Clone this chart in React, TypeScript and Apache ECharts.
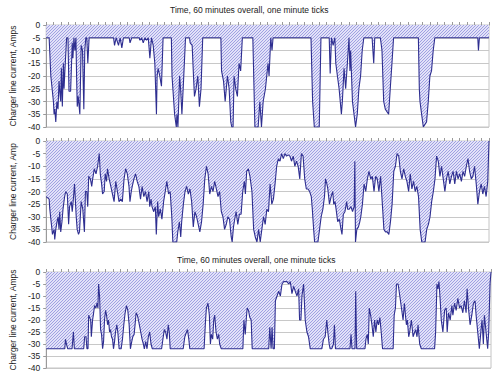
import React, { useEffect, useRef } from "react";
import * as echarts from "echarts";

const titleText = "Time, 60 minutes overall, one minute ticks";
const yName = "Charger line current, Amps";
const yNameCut = "Charger line current, Amp";
const yTicks = [0, -5, -10, -15, -20, -25, -30, -35, -40];

// [minute, amps]
const panel1: number[][] = [
  [0,-5],[0.4,-5],[0.63,-20],[0.98,-30],[1.07,-35],[1.16,-33],[1.3,-38],[1.45,-30],[1.6,-33],[1.74,-22],
  [1.9,-28],[1.97,-30],[2.06,-17],[2.19,-32],[2.33,-15],[2.42,-25],[2.55,-17],[2.77,-5],[2.95,-5],[3.09,-26],
  [3.31,-26],[3.53,-7],[3.62,-13],[3.76,-5],[3.89,-10],[4.03,-5],[4.12,-20],[4.21,-32],[4.34,-28],[4.56,-35],
  [4.74,-8],[4.92,-10],[5.1,-33],[5.23,-10],[5.37,-5],[5.5,-5],[5.64,-15],[5.82,-5],[9.13,-5],[9.26,-8],
  [9.48,-5],[9.8,-8],[10.02,-5],[10.25,-9],[10.47,-5],[11.25,-5],[11.36,-7],[11.59,-5],[12.6,-5],[12.71,-6],
  [12.93,-5],[13.15,-7],[13.38,-5],[13.6,-6],[13.83,-5],[13.92,-5],[14.05,-13],[14.27,-5],[14.5,-8],[14.72,-15],
  [14.94,-35],[15.03,-20],[15.17,-17],[15.39,-20],[15.62,-24],[15.84,-5],[16.96,-5],[17.05,-20],[17.4,-35],[17.63,-40],
  [17.72,-35],[17.85,-40],[18.08,-20],[18.21,-25],[18.39,-35],[18.61,-22],[18.88,-5],[19.42,-5],[19.51,-7],[19.78,-8],
  [19.96,-20],[20.09,-28],[20.31,-25],[20.54,-20],[20.76,-32],[20.98,-25],[21.21,-5],[23.67,-5],[23.76,-18],[24.03,-22],
  [24.25,-30],[24.56,-20],[24.79,-25],[25.01,-38],[25.15,-40],[25.32,-40],[25.46,-20],[25.68,-25],[25.91,-28],[26.13,-15],
  [26.35,-18],[26.58,-5],[28.0,-5],[28.2,-30],[28.28,-40],[28.72,-40],[28.95,-30],[29.17,-40],[29.4,-30],[29.71,-25],
  [30.06,-15],[30.2,-20],[30.43,-5],[30.6,-10],[30.74,-5],[35.88,-5],[36.1,-30],[36.33,-40],[37.0,-40],[37.23,-5],
  [38.35,-5],[38.48,-19],[38.66,-5],[38.88,-8],[39.11,-5],[39.24,-15],[39.46,-20],[39.69,-25],[40.0,-35],[40.13,-30],
  [40.36,-17],[40.58,-25],[40.81,-15],[41.03,-5],[41.16,-18],[41.25,-10],[41.5,-30],[41.92,-40],[42.15,-35],[42.37,-25],
  [42.6,-20],[42.82,-10],[43.04,-5],[44.16,-5],[44.38,-15],[44.52,-5],[45.28,-5],[45.5,-10],[45.73,-30],[45.95,-33],
  [46.4,-35],[46.62,-25],[46.85,-15],[47.07,-5],[50.43,-5],[50.56,-25],[50.65,-30],[50.87,-35],[51.1,-40],[51.54,-38],
  [51.77,-30],[51.99,-20],[52.21,-18],[52.44,-10],[52.66,-5],[58.48,-5],[58.57,-10],[58.7,-5],[60,-5]
];

const panel2: number[][] = [
  [0,-22],[0.4,-23],[0.49,-27],[0.71,-33],[0.85,-37],[1.07,-35],[1.16,-39],[1.3,-35],[1.47,-32],[1.61,-30],
  [1.74,-35],[1.83,-28],[1.97,-36],[2.14,-32],[2.28,-27],[2.5,-22],[2.64,-20],[2.86,-21],[3.04,-33],[3.17,-26],
  [3.4,-24],[3.53,-28],[3.71,-22],[3.84,-17],[3.98,-25],[4.07,-30],[4.2,-35],[4.38,-37],[4.51,-36],[4.74,-24],
  [4.96,-27],[5.18,-36],[5.32,-20],[5.5,-20],[5.63,-26],[5.76,-14],[5.99,-15],[6.17,-18],[6.3,-15],[6.52,-11],
  [6.75,-13],[6.97,-10],[7.19,-5],[7.33,-13],[7.51,-17],[7.64,-21],[7.86,-20],[8.0,-13],[8.18,-16],[8.31,-11],
  [8.53,-15],[8.76,-18],[8.98,-21],[9.2,-24],[9.43,-16],[9.65,-20],[9.87,-24],[10.1,-23],[10.32,-24],[10.55,-15],
  [10.77,-11],[10.99,-13],[11.22,-18],[11.35,-24],[11.53,-20],[11.66,-18],[11.89,-15],[12.11,-13],[12.33,-16],[12.56,-18],
  [12.78,-23],[13.0,-18],[13.23,-22],[13.45,-20],[13.67,-24],[13.9,-20],[14.03,-26],[14.21,-23],[14.34,-26],[14.57,-28],
  [14.79,-26],[14.92,-37],[15.1,-24],[15.24,-30],[15.46,-27],[15.68,-31],[15.91,-24],[16.13,-20],[16.35,-16],[16.58,-21],
  [16.8,-20],[17.02,-30],[17.16,-40],[17.69,-40],[17.83,-36],[18.05,-32],[18.23,-38],[18.36,-32],[18.59,-25],[18.81,-20],
  [19.03,-18],[19.26,-21],[19.48,-19],[19.71,-24],[19.93,-34],[20.15,-28],[20.38,-30],[20.6,-33],[20.82,-36],[21.05,-32],
  [21.27,-25],[21.49,-15],[21.72,-10],[21.94,-13],[22.16,-21],[22.39,-18],[22.61,-20],[22.83,-16],[23.06,-19],[23.28,-22],
  [23.5,-20],[23.73,-28],[23.95,-30],[24.17,-35],[24.4,-33],[24.62,-30],[24.84,-31],[25.07,-38],[25.2,-40],[25.38,-34],
  [25.6,-30],[25.74,-28],[25.96,-33],[26.18,-29],[26.41,-29],[26.63,-20],[26.85,-16],[26.99,-21],[27.17,-12],[27.39,-11],
  [27.61,-14],[27.88,-20],[28.11,-35],[28.33,-38],[28.56,-40],[28.78,-35],[29.0,-40],[29.22,-35],[29.45,-30],[29.67,-33],
  [29.9,-27],[30.12,-28],[30.34,-17],[30.57,-25],[30.79,-23],[31.01,-17],[31.23,-10],[31.46,-7],[31.68,-8],[31.9,-5],
  [32.13,-7],[32.35,-5],[32.57,-6],[32.8,-5.5],[33.02,-6],[33.24,-8],[33.47,-6],[33.69,-10],[33.91,-8],[34.14,-10],
  [34.36,-15],[34.58,-5],[34.81,-6],[35.03,-15],[35.25,-19],[35.48,-19],[35.7,-20],[35.92,-22],[36.06,-27],[36.24,-35],
  [36.37,-40],[36.82,-40],[37.04,-35],[37.26,-30],[37.49,-27],[37.71,-22],[37.85,-15],[38.03,-17],[38.16,-19],[38.38,-25],
  [38.61,-22],[38.83,-20],[38.96,-25],[39.14,-24],[39.28,-27],[39.5,-32],[39.72,-31],[39.95,-35],[40.08,-37],[40.26,-29],
  [40.48,-28],[40.71,-24],[40.84,-27],[41.06,-27],[41.29,-26],[41.51,-28],[41.73,-26],[41.82,-8],[41.91,-40],[42.09,-35],
  [42.31,-34],[42.49,-32],[42.63,-30],[42.85,-25],[43.07,-17],[43.3,-20],[43.52,-15],[43.74,-12],[43.97,-15],[44.19,-14],
  [44.42,-20],[44.64,-14],[44.86,-15],[45.08,-20],[45.31,-14],[45.53,-24],[45.76,-35],[45.98,-36],[46.2,-36],[46.43,-37],
  [46.65,-32],[46.87,-25],[47.1,-12],[47.32,-10],[47.54,-5],[47.77,-6],[47.99,-12],[48.21,-15],[48.44,-11],[48.66,-14],
  [48.88,-16],[49.11,-20],[49.33,-13],[49.55,-19],[49.78,-16],[50.0,-20],[50.22,-18],[50.45,-22],[50.67,-35],[50.89,-40],
  [51.34,-40],[51.56,-35],[51.79,-33],[52.01,-30],[52.23,-24],[52.46,-20],[52.68,-15],[52.9,-6],[53.13,-8],[53.35,-14],
  [53.57,-10],[53.8,-15],[54.02,-20],[54.24,-15],[54.47,-12],[54.69,-17],[54.92,-14],[55.14,-12],[55.36,-17],[55.59,-12],
  [55.81,-15],[56.03,-13],[56.26,-16],[56.48,-12],[56.7,-14],[56.93,-10],[57.15,-7],[57.37,-12],[57.6,-15],[57.82,-14],
  [58.04,-10],[58.27,-17],[58.49,-25],[58.71,-20],[58.94,-17],[59.16,-21],[59.38,-18],[59.61,-22],[59.83,-16],[60,0]
];

const panel3: number[][] = [
  [0,-32],[2.51,-32],[2.6,-28],[2.73,-30],[2.91,-32],[3.49,-32],[3.67,-25],[3.8,-32],[5.06,-32],[5.19,-27],
  [5.37,-27],[5.5,-32],[5.64,-32],[5.73,-18],[5.86,-19],[6.0,-20],[6.09,-27],[6.17,-27],[6.26,-20],[6.4,-17],
  [6.53,-14],[6.71,-15],[6.85,-13],[6.98,-15],[7.07,-5],[7.2,-10],[7.34,-24],[7.47,-26],[7.61,-32],[7.74,-29],
  [7.87,-20],[8.01,-16],[8.14,-18],[8.28,-22],[8.41,-20],[8.55,-25],[8.68,-24],[8.81,-27],[8.95,-28],[9.08,-32],
  [9.22,-29],[9.35,-25],[9.53,-22],[9.66,-25],[9.84,-32],[10.11,-32],[10.29,-28],[10.47,-22],[10.65,-17],[10.83,-14],
  [11.01,-16],[11.19,-22],[11.36,-32],[11.54,-29],[11.68,-27],[11.86,-26],[11.99,-22],[12.13,-17],[12.3,-18],[12.44,-20],
  [12.57,-22],[12.75,-25],[12.93,-28],[13.11,-30],[13.24,-32],[13.42,-29],[13.6,-32],[13.78,-27],[13.96,-25],[14.14,-30],
  [14.32,-32],[15.57,-32],[15.79,-27],[15.93,-24],[16.11,-25],[16.29,-28],[16.47,-22],[16.6,-25],[16.73,-32],[18.48,-32],
  [18.7,-27],[18.93,-25],[19.06,-24],[19.24,-28],[19.37,-32],[21.3,-32],[21.48,-21],[21.61,-15],[21.83,-13],[22.01,-18],
  [22.15,-30],[22.28,-26],[22.46,-28],[22.6,-20],[22.73,-18],[22.91,-25],[23.09,-28],[23.27,-26],[23.4,-30],[23.62,-32],
  [26.53,-32],[26.67,-20],[26.85,-26],[26.98,-20],[27.11,-15],[27.29,-16],[27.47,-19],[27.65,-20],[27.79,-32],[30.02,-32],
  [30.16,-23],[30.34,-32],[30.47,-23],[30.6,-32],[30.78,-32],[30.92,-12],[31.14,-10],[31.36,-8],[31.59,-10],[31.81,-5],
  [32.04,-4],[32.48,-4],[32.71,-5],[32.93,-4],[33.15,-9],[33.38,-6],[33.6,-8],[33.83,-10],[34.05,-7],[34.18,-20],
  [34.36,-20],[34.5,-10],[34.72,-5],[34.94,-20],[35.17,-25],[35.39,-27],[35.62,-32],[37.18,-32],[37.4,-28],[37.63,-27],
  [37.85,-20],[37.99,-25],[38.17,-30],[38.3,-32],[38.52,-32],[38.75,-30],[38.88,-22],[39.02,-32],[40.98,-32],[41.12,-26],
  [41.25,-32],[41.66,-32],[41.75,-8],[41.88,-32],[43.0,-32],[43.13,-28],[43.31,-26],[43.45,-30],[43.58,-15],[43.76,-18],
  [43.94,-22],[44.12,-27],[44.3,-20],[44.47,-25],[44.65,-20],[44.83,-22],[45.01,-19],[45.19,-25],[45.37,-32],[46.8,-32],
  [46.94,-18],[47.11,-15],[47.25,-5],[47.47,-5],[47.7,-10],[47.92,-15],[48.14,-20],[48.32,-13],[48.46,-18],[48.59,-22],
  [48.72,-20],[48.9,-27],[49.04,-25],[49.26,-20],[49.49,-27],[49.71,-25],[49.84,-24],[50.02,-27],[50.16,-22],[50.38,-30],
  [50.6,-32],[52.39,-32],[52.53,-25],[52.71,-5],[52.84,-7],[52.98,-4],[53.15,-12],[53.29,-20],[53.51,-25],[53.74,-16],
  [53.96,-15],[54.09,-25],[54.27,-17],[54.5,-20],[54.72,-14],[54.86,-18],[55.08,-13],[55.3,-16],[55.53,-11],[55.75,-15],
  [55.97,-14],[56.2,-17],[56.42,-12],[56.64,-17],[56.78,-7],[56.96,-15],[57.18,-22],[57.41,-18],[57.63,-13],[57.85,-12],
  [57.99,-18],[58.21,-25],[58.43,-32],[58.66,-24],[58.79,-20],[58.97,-30],[59.11,-18],[59.33,-25],[59.55,-32],[59.69,-25],
  [59.87,-5],[60,0]
];

const FONT = "'Liberation Sans', Arial, sans-serif";

function makeHatch(): HTMLCanvasElement {
  const s = 6;
  const c = document.createElement("canvas");
  c.width = s;
  c.height = s;
  const ctx = c.getContext("2d")!;
  ctx.fillStyle = "#e2e2f8";
  ctx.fillRect(0, 0, s, s);
  ctx.strokeStyle = "#a0a0e2";
  ctx.lineWidth = 1;
  ctx.beginPath();
  ctx.moveTo(-1, s + 1);
  ctx.lineTo(s + 1, -1);
  ctx.moveTo(-1, s / 2 + 1);
  ctx.lineTo(s / 2 + 1, -1);
  ctx.moveTo(s / 2 - 1, s + 1);
  ctx.lineTo(s + 1, s / 2 - 1);
  ctx.stroke();
  return c;
}

export default function App() {
  const ref = useRef<HTMLDivElement>(null);
  useEffect(() => {
    if (!ref.current) return;
    const chart = echarts.init(ref.current, null, { renderer: "svg" });
    const hatch = makeHatch();
    const grids = [
      { left: 42, top: 25, width: 447, height: 102 },
      { left: 41, top: 141, width: 448, height: 101 },
      { left: 44, top: 272, width: 447, height: 96 },
    ];
    const names = [yName, yNameCut, yName];
    const datasets = [panel1, panel2, panel3];
    chart.setOption({
      animation: false,
      backgroundColor: "#ffffff",
      title: [
        { text: titleText, left: 170, top: 5, padding: 0, textStyle: { fontSize: 8.5, fontWeight: "normal", color: "#222", fontFamily: FONT } },
        { text: titleText, left: 177, top: 255, padding: 0, textStyle: { fontSize: 8.5, fontWeight: "normal", color: "#222", fontFamily: FONT } },
      ],
      grid: grids.map((g) => ({ ...g, show: true, borderColor: "#c4c4c4", borderWidth: 1, backgroundColor: "transparent" })),
      xAxis: grids.map((_, i) => ({
        type: "value",
        gridIndex: i,
        min: 0,
        max: 60,
        interval: 1,
        position: "top",
        axisLine: { show: true, onZero: false, lineStyle: { color: "#9a9a9a", width: 1 } },
        axisTick: { show: true, length: 3, lineStyle: { color: "#9a9a9a" } },
        axisLabel: { show: false },
        splitLine: { show: false },
      })),
      yAxis: grids.map((_, i) => ({
        type: "value",
        gridIndex: i,
        min: -40,
        max: 0,
        interval: 5,
        name: names[i],
        nameLocation: "middle",
        nameRotate: 90,
        nameGap: 21,
        nameTextStyle: { fontSize: 8.5, color: "#222", fontFamily: FONT },
        axisLine: { show: true, lineStyle: { color: "#9a9a9a", width: 1 } },
        axisTick: { show: true, length: 3, lineStyle: { color: "#9a9a9a" } },
        axisLabel: {
          fontSize: 8.5,
          color: "#222",
          fontFamily: FONT,
          margin: 6,
          customValues: yTicks,
        },
        splitLine: { show: true, lineStyle: { color: "#c8c8c8", width: 1 } },
      })),
      series: datasets.map((d, i) => ({
        type: "line",
        xAxisIndex: i,
        yAxisIndex: i,
        data: d,
        showSymbol: false,
        symbol: "none",
        lineStyle: { color: "#2e2e90", width: 1.1 },
        areaStyle: { color: { image: hatch, repeat: "repeat" }, opacity: 1, origin: "end" },
        z: 2,
      })),
    });
    return () => chart.dispose();
  }, []);
  return <div ref={ref} style={{ position: "absolute", left: 0, top: 0, width: 496, height: 383 }} />;
}
